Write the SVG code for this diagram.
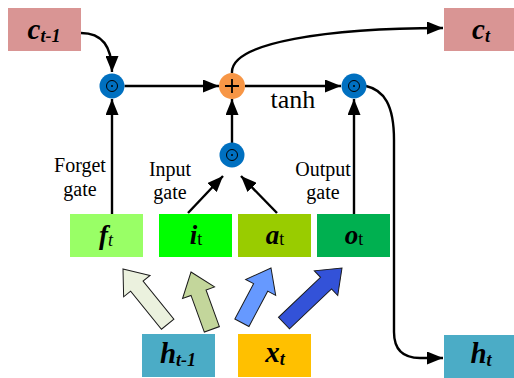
<svg xmlns="http://www.w3.org/2000/svg" width="514" height="378" viewBox="0 0 514 378" font-family="'Liberation Serif', 'Times New Roman', serif">
<style>
text{font-family:'Liberation Serif','Times New Roman',serif}
.lbl{font-size:20px;fill:#000;text-anchor:middle}
.var{font-size:27px;font-weight:bold;font-style:italic;fill:#000;text-anchor:middle}
.sub{font-size:18px}
.rom{font-style:normal;font-weight:normal}
.conn{fill:none;stroke:#000;stroke-width:2.4}
.mul{fill:#0070c0}
.blk{stroke:#1a1a1a;stroke-width:1;stroke-linejoin:miter}
</style>
<defs>
<marker id="ah" markerUnits="userSpaceOnUse" markerWidth="17" markerHeight="13" refX="16" refY="6.5" orient="auto">
<path d="M0,0 L16,6.5 L0,13 z" fill="#000"/>
</marker>
<symbol id="odot" overflow="visible">
<circle r="12.5" class="mul"/>
<circle r="5.5" fill="none" stroke="#000" stroke-width="1"/>
<circle r="1" fill="#000"/>
</symbol>
</defs>
<rect width="514" height="378" fill="#fff"/>

<g id="connectors">
<path class="conn" d="M81,33 C100,33 112,44 112,72" marker-end="url(#ah)"/>
<path class="conn" d="M124.5,86 L219,86" marker-end="url(#ah)"/>
<path class="conn" d="M245,86 L341,86" marker-end="url(#ah)"/>
<path class="conn" d="M232,73 C230,42 330,28 443,28" marker-end="url(#ah)"/>
<path class="conn" d="M366,86 C384,90 394,105 394,140 L394,332 C394,350 403,358 420,358 L443,358" marker-end="url(#ah)"/>
<path class="conn" d="M112,214 L112,99" marker-end="url(#ah)"/>
<path class="conn" d="M354,214 L354,99" marker-end="url(#ah)"/>
<path class="conn" d="M232,143 L232,99" marker-end="url(#ah)"/>
<path class="conn" d="M188,213 L223,176" marker-end="url(#ah)"/>
<path class="conn" d="M277,213 L241,176" marker-end="url(#ah)"/>
</g>

<g id="c_prev"><rect x="8" y="8" width="73" height="43" fill="#d99594"/><text class="var" x="44" y="39" font-family="'Liberation Serif', serif" style="font-size:29px">c<tspan dy="3" style="font-size:18px">t-1</tspan></text></g>
<g id="c_t"><rect x="444" y="8" width="73" height="43" fill="#d99594"/><text class="var" x="481" y="39" font-family="'Liberation Serif', serif" style="font-size:29px">c<tspan dy="3" style="font-size:18px">t</tspan></text></g>

<g id="mul_forget"><use href="#odot" x="112" y="86"/></g>
<g id="plus"><circle cx="232" cy="86" r="13" fill="#f79646"/><path d="M225,86 H239 M232,79 V93" stroke="#000" stroke-width="1.8"/></g>
<g id="mul_output"><use href="#odot" x="354" y="86"/></g>
<g id="mul_input"><use href="#odot" x="232" y="155"/></g>
<text class="lbl" x="293" y="108" font-family="'Liberation Serif', serif" style="font-size:26px">tanh</text>

<g id="lbl_forget" font-family="'Liberation Serif', serif"><text class="lbl" x="80" y="172">Forget</text><text class="lbl" x="80" y="196">gate</text></g>
<g id="lbl_input" font-family="'Liberation Serif', serif"><text class="lbl" x="170" y="176">Input</text><text class="lbl" x="170" y="199">gate</text></g>
<g id="lbl_output" font-family="'Liberation Serif', serif"><text class="lbl" x="323" y="176">Output</text><text class="lbl" x="323" y="199">gate</text></g>

<g id="f_t"><rect x="70" y="214" width="73" height="43" fill="#99ff66"/><text class="var" x="106" y="244">f<tspan class="sub" dy="2" style="font-weight:normal">t</tspan></text></g>
<g id="i_t"><rect x="159" y="214" width="73" height="43" fill="#00ff00"/><text class="var" x="196" y="244">i<tspan class="sub rom" dy="1">t</tspan></text></g>
<g id="a_t"><rect x="238" y="214" width="73" height="43" fill="#99cc00"/><text class="var" x="275" y="244">a<tspan class="sub rom" dy="1">t</tspan></text></g>
<g id="o_t"><rect x="317" y="214" width="73" height="43" fill="#00b050"/><text class="var" x="354" y="244">o<tspan class="sub rom" dy="1">t</tspan></text></g>

<g id="block_arrows">
<polygon class="blk" fill="#ebf1de" points="0,0 17,22 8,22 8,71 -8,71 -8,22 -17,22" transform="translate(123,269) rotate(-39)"/>
<polygon class="blk" fill="#c3d69b" points="0,0 17,22 8,22 8,61 -8,61 -8,22 -17,22" transform="translate(191,272) rotate(-20)"/>
<polygon class="blk" fill="#6699ff" points="0,0 17,22 8,22 8,62 -8,62 -8,22 -17,22" transform="translate(271,268) rotate(28)"/>
<polygon class="blk" fill="#3352d8" points="0,0 17,22 8,22 8,80 -8,80 -8,22 -17,22" transform="translate(342,268) rotate(46.5)"/>
</g>

<g id="h_prev"><rect x="142" y="334" width="73" height="43" fill="#4bacc6"/><text class="var" x="178" y="363" style="font-size:29px">h<tspan dy="3" style="font-size:18px">t-1</tspan></text></g>
<g id="x_t"><rect x="238" y="334" width="73" height="43" fill="#ffc000"/><text class="var" x="275" y="362" style="font-size:29px">x<tspan dy="3" style="font-size:18px">t</tspan></text></g>
<g id="h_t"><rect x="444" y="335" width="73" height="43" fill="#4bacc6"/><text class="var" x="481" y="363" style="font-size:29px">h<tspan dy="3" style="font-size:18px">t</tspan></text></g>
</svg>
